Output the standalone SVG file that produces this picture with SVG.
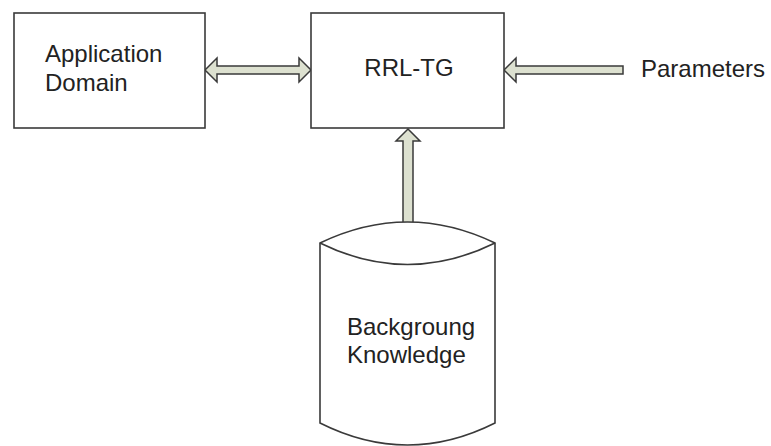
<svg xmlns="http://www.w3.org/2000/svg" width="771" height="446" viewBox="0 0 771 446">
<style>
.box{fill:#fff;stroke:#3a3a3a;stroke-width:1.6}
.arrow{fill:#dde1d0;stroke:#3a3a3a;stroke-width:1.5;stroke-linejoin:miter}
.t{font-family:"Liberation Sans",Arial,sans-serif;font-size:24px;fill:#222}
</style>
<rect width="771" height="446" fill="#fff"/>
<g id="connectors">
<polygon class="arrow" points="205,70 217,58 217,66 299,66 299,58 311,70 299,82 299,74 217,74 217,82"/>
<polygon class="arrow" points="504,70 516,58 516,66 623,66 623,74 516,74 516,82"/>
<polygon class="arrow" points="408,129 420,141 413,141 413,223 403,223 403,141 396,141"/>
</g>
<g id="application-domain">
<rect class="box" x="14" y="13" width="191" height="115"/>
<text class="t" x="45" y="62">Application</text>
<text class="t" x="45" y="91">Domain</text>
</g>
<g id="rrl-tg">
<rect class="box" x="311" y="13" width="193" height="115"/>
<text class="t" x="409" y="76" text-anchor="middle">RRL-TG</text>
</g>
<g id="parameters">
<text class="t" x="641" y="77">Parameters</text>
</g>
<g id="background-knowledge">
<path class="box" d="M320,243 Q407.5,201 495,243 L495,423 Q407.5,467 320,423 Z"/>
<path class="box" fill="none" d="M320,243 Q407.5,286 495,243"/>
<text class="t" x="347" y="335">Backgroung</text>
<text class="t" x="347" y="363">Knowledge</text>
</g>
</svg>
